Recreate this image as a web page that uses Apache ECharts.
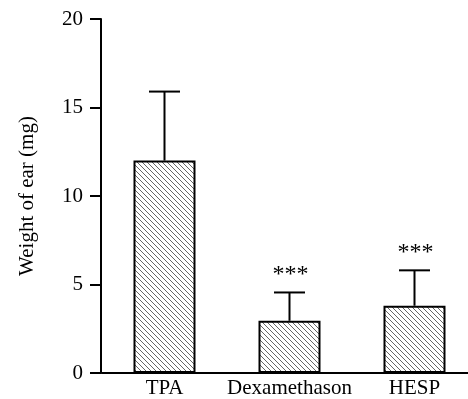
<!DOCTYPE html>
<html>
<head>
<meta charset="utf-8">
<script src="https://cdn.jsdelivr.net/npm/echarts@6/dist/echarts.min.js"></script>
<style>
  html, body { margin: 0; padding: 0; background: #fff; }
  #chart { width: 468px; height: 399px; }
</style>
</head>
<body>
<div id="chart"></div>
<script>
const groups = ['TPA', 'Dexamethason', 'HESP']
const means = [12.0, 2.95, 3.8]
const errors = [3.9, 1.6, 2.0]
const stars = ['', '***', '***']

// hatch tile: diagonal "\" lines
const makeHatch = () => {
  const s = 5
  const c = document.createElement('canvas')
  c.width = s
  c.height = s
  const ctx = c.getContext('2d')
  ctx.fillStyle = '#fff'
  ctx.fillRect(0, 0, s, s)
  ctx.strokeStyle = '#666'
  ctx.lineWidth = 1
  ctx.beginPath()
  ctx.moveTo(-1, -1)
  ctx.lineTo(s + 1, s + 1)
  ctx.moveTo(-1, s - 1)
  ctx.lineTo(1, s + 1)
  ctx.moveTo(s - 1, -1)
  ctx.lineTo(s + 1, 1)
  ctx.stroke()
  return c
}

const chart = echarts.init(document.getElementById('chart'))
const font = '"Liberation Serif", "Times New Roman", serif'

const option = {
  backgroundColor: '#fff',
  animation: false,
  grid: {
    left: 102,
    top: 19,
    bottom: 26,
    width: 375,
    outerBoundsMode: 'none',
  },
  xAxis: {
    type: 'category',
    data: groups,
    axisLine: {
      lineStyle: { color: '#000', width: 2 },
    },
    axisTick: { show: false },
    axisLabel: {
      interval: 0,
      color: '#000',
      fontFamily: font,
      fontSize: 21,
      margin: 5,
    },
  },
  yAxis: {
    type: 'value',
    min: 0,
    max: 20,
    interval: 5,
    offset: 1,
    name: 'Weight of ear (mg)',
    nameLocation: 'middle',
    nameGap: 63,
    nameTextStyle: {
      color: '#000',
      fontFamily: font,
      fontSize: 21,
    },
    axisLine: {
      show: true,
      lineStyle: { color: '#000', width: 2 },
    },
    axisTick: {
      show: true,
      length: 11,
      lineStyle: { color: '#000', width: 2 },
    },
    axisLabel: {
      color: '#000',
      fontFamily: font,
      fontSize: 21,
      margin: 18,
    },
    splitLine: { show: false },
  },
  series: [
    {
      type: 'bar',
      data: means,
      barWidth: 62,
      z: 2,
      itemStyle: {
        color: { image: makeHatch(), repeat: 'repeat' },
        borderColor: '#000',
        borderWidth: 2,
      },
    },
    {
      type: 'custom',
      z: 3,
      data: groups.map((g, i) => [i, means[i], errors[i]]),
      renderItem(params, api) {
        const i = api.value(0)
        const base = api.coord([i, api.value(1)])
        const top = api.coord([i, api.value(1) + api.value(2)])
        const cap = 15.5
        const children = [
          {
            type: 'line',
            shape: { x1: base[0], y1: base[1], x2: top[0], y2: top[1] },
            style: { stroke: '#000', lineWidth: 2 },
          },
          {
            type: 'line',
            shape: { x1: top[0] - cap, y1: top[1], x2: top[0] + cap, y2: top[1] },
            style: { stroke: '#000', lineWidth: 2 },
          },
        ]
        if (stars[i]) {
          children.push({
            type: 'text',
            style: {
              text: stars[i],
              x: top[0] + 1,
              y: top[1] - 18,
              align: 'center',
              verticalAlign: 'middle',
              fill: '#000',
              font: '24px ' + font,
            },
          })
        }
        return { type: 'group', children }
      },
    },
  ],
}

chart.setOption(option)
</script>
</body>
</html>
